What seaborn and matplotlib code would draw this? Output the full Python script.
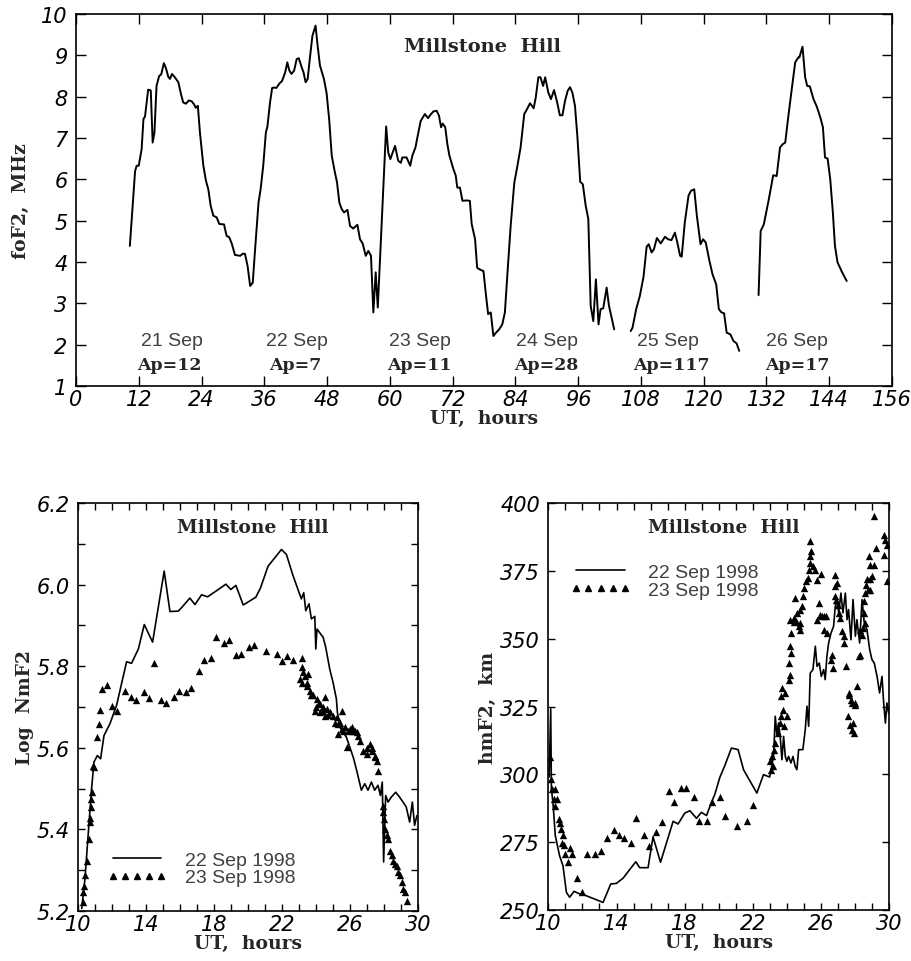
import matplotlib
matplotlib.use("Agg")
import matplotlib.pyplot as plt
from matplotlib.lines import Line2D
import seaborn as sns
import pandas as pd

# ---- top panel: foF2 at Millstone Hill, 21-26 Sep 1998 ----
seg1_hours = [10.3, 11.3, 11.6, 12.0, 12.55, 12.9, 13.2, 13.8, 14.3, 14.66,
              15.0, 15.4, 15.9, 16.3, 16.8, 17.2, 17.65, 17.97, 18.35, 18.9,
              19.57, 20.08, 20.5, 21.0, 21.6, 22.1, 22.55, 22.9, 23.3, 23.7,
              24.35, 24.86, 25.3, 25.75, 26.26, 26.9, 27.4, 28.3, 28.8, 29.3,
              29.77, 30.4, 31.4, 31.87, 32.3, 32.8, 33.3, 33.8, 34.2, 34.9,
              35.3, 35.8, 36.3, 36.6, 37.1, 37.5, 38.0, 38.3, 38.9, 39.4,
              40.0, 40.4, 40.8, 41.2, 41.7, 42.2, 42.6, 43.15, 43.5, 43.9,
              44.3, 44.7, 45.2, 45.8, 46.2, 46.65, 47.4, 47.9, 48.4, 48.9,
              49.5, 49.9, 50.35, 50.8, 51.24, 51.9, 52.4, 53.0, 53.8, 54.3,
              54.8, 55.4, 55.9, 56.4, 56.85, 57.3, 57.7, 59.3, 59.7, 60.1,
              61.0, 61.6, 62.1, 62.4, 63.2, 63.9, 64.3, 64.9, 65.45, 65.9,
              66.7, 67.3, 67.75, 68.3, 68.95, 69.4, 69.8, 70.1, 70.6, 71.0,
              71.4, 72.15, 72.6, 72.9, 73.4, 73.9, 74.7, 75.3, 75.65, 76.3,
              76.7, 77.2, 77.9, 78.4, 78.8, 79.3, 79.8, 80.3, 80.9, 81.5,
              82.0, 82.5, 83.1, 83.8, 84.4, 85.0, 85.7, 86.2, 86.8, 87.5,
              87.9, 88.4, 88.8, 89.3, 89.7, 90.3, 90.8, 91.4, 92.0, 92.5,
              93.0, 93.5, 94.0, 94.45, 94.9, 95.4, 95.85, 96.4, 96.9, 97.45,
              97.95, 98.4, 98.9, 99.4, 99.9, 100.3, 100.8, 101.45, 101.9, 102.4,
              102.9]
seg1_fof2 = [4.39, 6.2, 6.33, 6.33, 6.73, 7.46, 7.52, 8.17, 8.15, 6.89,
             7.13, 8.26, 8.5, 8.54, 8.81, 8.69, 8.48, 8.43, 8.55, 8.47,
             8.35, 8.06, 7.86, 7.83, 7.91, 7.89, 7.82, 7.73, 7.78, 7.13,
             6.33, 5.96, 5.76, 5.36, 5.12, 5.08, 4.92, 4.91, 4.63, 4.6,
             4.45, 4.17, 4.15, 4.2, 4.2, 3.91, 3.42, 3.5, 4.23, 5.44,
             5.76, 6.33, 7.13, 7.28, 7.86, 8.21, 8.22, 8.21, 8.32, 8.38,
             8.59, 8.83, 8.63, 8.55, 8.63, 8.91, 8.93, 8.71, 8.59, 8.35,
             8.43, 8.91, 9.47, 9.72, 9.23, 8.75, 8.43, 8.1, 7.46, 6.57,
             6.17, 5.93, 5.44, 5.28, 5.2, 5.26, 4.87, 4.81, 4.9, 4.55,
             4.45, 4.15, 4.27, 4.15, 2.78, 3.75, 2.9, 7.28, 6.65, 6.49,
             6.81, 6.45, 6.4, 6.53, 6.53, 6.33, 6.57, 6.77, 7.13, 7.41,
             7.58, 7.48, 7.56, 7.64, 7.66, 7.54, 7.26, 7.35, 7.26, 6.85,
             6.57, 6.25, 6.09, 5.8, 5.8, 5.48, 5.49, 5.48, 4.92, 4.55,
             3.86, 3.82, 3.78, 3.18, 2.74, 2.78, 2.21, 2.29, 2.37, 2.49,
             2.78, 3.75, 4.87, 5.92, 6.33, 6.77, 7.58, 7.69, 7.84, 7.72,
             7.98, 8.47, 8.47, 8.26, 8.47, 8.1, 7.94, 8.16, 7.86, 7.55,
             7.55, 7.9, 8.14, 8.23, 8.1, 7.78, 7.05, 5.94, 5.88, 5.36,
             5.04, 2.94, 2.57, 3.58, 2.49, 2.86, 2.88, 3.38, 2.94, 2.66,
             2.37]
seg2_hours = [106.05, 106.4, 107.1, 107.8, 108.5, 109.1, 109.5, 110.05, 110.5, 111.05,
              111.8, 112.6, 113.2, 113.85, 114.5, 114.9, 115.5, 115.8, 116.4, 117.1,
              117.55, 118.2, 118.7, 119.4, 119.9, 120.4, 121.1, 121.7, 122.4, 122.9,
              123.4, 123.9, 124.4, 125.1, 125.7, 126.3, 126.8]
seg2_fof2 = [2.33, 2.41, 2.86, 3.18, 3.64, 4.37, 4.43, 4.23, 4.31, 4.58,
             4.45, 4.61, 4.55, 4.53, 4.71, 4.51, 4.15, 4.13, 4.96, 5.6,
             5.72, 5.76, 5.12, 4.43, 4.55, 4.47, 4.03, 3.7, 3.46, 2.86,
             2.78, 2.76, 2.29, 2.25, 2.09, 2.03, 1.85]
seg3_hours = [130.5, 130.9, 131.5, 132.4, 133.3, 133.96, 134.6, 135.1, 135.6, 136.2,
              136.8, 137.5, 138.1, 138.3, 138.9, 139.4, 139.8, 140.3, 141.0, 141.6,
              142.3, 142.8, 143.2, 143.7, 144.2, 144.7, 145.1, 145.6, 146.4, 147.35]
seg3_fof2 = [3.2, 4.75, 4.91, 5.48, 6.1, 6.08, 6.77, 6.85, 6.89, 7.54,
             8.14, 8.83, 8.95, 8.95, 9.21, 8.47, 8.26, 8.25, 7.94, 7.77,
             7.5, 7.26, 6.53, 6.5, 6.0, 5.2, 4.39, 3.99, 3.77, 3.54]

day_labels = ["21 Sep", "22 Sep", "23 Sep", "24 Sep", "25 Sep", "26 Sep"]
ap_labels = ["Ap=12", "Ap=7", "Ap=11", "Ap=28", "Ap=117", "Ap=17"]
day_label_hours = [18.3, 42.2, 65.8, 90.0, 113.2, 137.9]
ap_label_hours = [17.9, 41.9, 65.7, 89.9, 113.9, 137.9]

# ---- bottom left: log NmF2 ----
nm22_hours = [10.22, 10.41, 10.61, 10.80, 10.94, 11.14, 11.33, 11.53, 11.88, 12.27,
              12.86, 13.15, 13.55, 13.90, 14.39, 15.07, 15.41, 15.90, 16.15, 16.58,
              16.88, 17.27, 17.62, 18.15, 18.70, 18.99, 19.29, 19.72, 20.46, 20.73,
              21.18, 21.97, 22.26, 22.65, 23.01, 23.14, 23.28, 23.40, 23.59, 23.73,
              23.93, 23.99, 24.06, 24.22, 24.42, 24.57, 24.81, 25.00, 25.20, 25.26,
              25.40, 25.59, 25.79, 26.02, 26.22, 26.42, 26.67, 26.87, 27.06, 27.26,
              27.45, 27.65, 27.79, 27.90, 27.98, 28.10, 28.24, 28.43, 28.69, 28.92,
              29.12, 29.31, 29.51, 29.67, 29.80, 29.94]
nm22_log = [5.206, 5.279, 5.393, 5.500, 5.565, 5.581, 5.573, 5.630, 5.659, 5.704,
            5.811, 5.807, 5.842, 5.902, 5.859, 6.033, 5.934, 5.935, 5.946, 5.967,
            5.951, 5.975, 5.970, 5.985, 6.001, 5.988, 5.998, 5.950, 5.969, 5.991,
            6.045, 6.086, 6.074, 6.022, 5.980, 5.965, 5.980, 5.936, 5.953, 5.916,
            5.922, 5.842, 5.891, 5.882, 5.871, 5.847, 5.793, 5.761, 5.720, 5.687,
            5.651, 5.638, 5.626, 5.598, 5.573, 5.540, 5.496, 5.512, 5.496, 5.516,
            5.496, 5.508, 5.483, 5.516, 5.320, 5.483, 5.467, 5.479, 5.491, 5.479,
            5.467, 5.455, 5.418, 5.467, 5.410, 5.434]
nm23_hours = [10.29, 10.29, 10.35, 10.43, 10.55, 10.63, 10.69, 10.73, 10.75, 10.78,
              10.82, 10.88, 10.94, 11.12, 11.22, 11.31, 11.43, 11.71, 12.02, 12.31,
              12.75, 13.10, 13.43, 13.86, 14.18, 14.47, 14.90, 15.20, 15.65, 15.94,
              16.37, 16.67, 17.12, 17.41, 17.84, 18.14, 18.57, 18.86, 19.31, 19.61,
              20.06, 20.35, 21.06, 21.69, 21.98, 22.27, 22.67, 23.16, 23.16, 23.25,
              23.06, 23.35, 23.55, 23.16, 23.45, 23.65, 23.84, 24.04, 24.24, 24.43,
              23.94, 24.53, 24.24, 24.63, 24.82, 25.02, 24.53, 25.22, 25.51, 25.31,
              25.51, 25.31, 25.71, 25.90, 26.00, 26.20, 26.39, 25.80, 26.59, 26.78,
              26.98, 27.18, 27.27, 27.47, 27.57, 27.67, 27.96, 27.96, 28.02, 28.06,
              28.16, 28.26, 28.35, 28.45, 28.55, 28.65, 28.75, 28.84, 28.94, 29.04,
              29.14, 29.24, 29.33, 23.50, 23.70, 24.00, 24.20, 24.40, 24.70, 25.10,
              25.40, 25.60, 26.10, 26.30, 26.50, 27.00, 27.30, 27.50]
nm23_log = [5.221, 5.246, 5.262, 5.287, 5.323, 5.376, 5.417, 5.429, 5.454, 5.474,
            5.491, 5.556, 5.552, 5.626, 5.658, 5.693, 5.744, 5.754, 5.703, 5.689,
            5.738, 5.724, 5.717, 5.736, 5.722, 5.807, 5.717, 5.709, 5.724, 5.738,
            5.736, 5.747, 5.789, 5.816, 5.819, 5.872, 5.857, 5.864, 5.828, 5.831,
            5.848, 5.853, 5.838, 5.831, 5.813, 5.826, 5.815, 5.821, 5.797, 5.785,
            5.769, 5.777, 5.781, 5.760, 5.752, 5.740, 5.729, 5.720, 5.707, 5.699,
            5.691, 5.724, 5.687, 5.695, 5.687, 5.679, 5.679, 5.675, 5.691, 5.658,
            5.646, 5.634, 5.650, 5.642, 5.646, 5.642, 5.638, 5.601, 5.617, 5.593,
            5.585, 5.609, 5.593, 5.577, 5.568, 5.544, 5.458, 5.442, 5.425, 5.401,
            5.385, 5.376, 5.348, 5.336, 5.323, 5.315, 5.311, 5.295, 5.287, 5.270,
            5.254, 5.246, 5.225, 5.760, 5.730, 5.700, 5.710, 5.690, 5.680, 5.660,
            5.660, 5.640, 5.650, 5.640, 5.630, 5.600, 5.600, 5.580]

# ---- bottom right: hmF2 ----
hm22_hours = [10.05, 10.14, 10.18, 10.27, 10.41, 10.66, 10.86, 11.06, 11.25, 11.51,
              11.84, 12.13, 13.21, 13.66, 13.99, 14.38, 15.13, 15.36, 15.85, 16.14,
              16.58, 17.32, 17.61, 18.00, 18.30, 18.69, 18.98, 19.28, 19.57, 19.77,
              20.06, 20.35, 20.74, 21.13, 21.45, 21.84, 22.23, 22.62, 22.98, 23.21,
              23.31, 23.41, 23.50, 23.60, 23.70, 23.80, 23.90, 23.99, 24.09, 24.23,
              24.35, 24.48, 24.58, 24.68, 24.93, 25.07, 25.17, 25.27, 25.36, 25.52,
              25.66, 25.76, 25.89, 26.01, 26.15, 26.24, 26.34, 26.44, 26.58, 26.73,
              26.83, 26.93, 27.03, 27.16, 27.28, 27.42, 27.52, 27.61, 27.75, 27.87,
              28.01, 28.10, 28.26, 28.40, 28.53, 28.69, 28.85, 28.98, 29.12, 29.28,
              29.43, 29.57, 29.67, 29.77, 29.86, 29.96]
hm22_km = [299.0, 324.1, 294.6, 289.7, 277.4, 270.0, 266.3, 256.5, 254.7, 256.9,
           255.9, 255.5, 252.8, 259.6, 259.8, 261.7, 267.8, 265.6, 265.6, 277.0,
           267.6, 282.7, 281.7, 285.7, 286.6, 283.8, 286.0, 284.8, 289.7, 292.7,
           298.9, 303.2, 309.7, 309.1, 301.7, 297.4, 293.1, 299.9, 299.0, 306.6,
           321.4, 314.0, 318.9, 314.0, 305.4, 314.0, 306.6, 304.8, 306.6, 304.2,
           306.6, 302.9, 301.7, 309.1, 309.1, 316.5, 325.1, 317.7, 337.3, 338.6,
           347.2, 339.8, 341.0, 336.1, 338.6, 334.9, 343.5, 348.4, 352.1, 354.5,
           361.9, 364.4, 359.5, 366.8, 359.5, 366.8, 357.0, 360.7, 349.6, 364.4,
           350.9, 357.0, 348.4, 364.4, 355.8, 353.3, 345.9, 342.3, 341.0, 336.1,
           330.0, 336.1, 326.3, 318.9, 326.3, 322.6]
hm23_hours = [10.08, 10.14, 10.21, 10.37, 10.33, 10.53, 10.41, 10.61, 10.66, 10.72,
              10.86, 10.80, 10.92, 11.29, 10.96, 11.41, 11.15, 11.68, 11.99, 12.29,
              12.72, 13.11, 13.44, 13.83, 14.15, 14.44, 14.87, 15.17, 15.62, 15.91,
              16.34, 16.67, 17.08, 17.38, 17.81, 18.10, 18.55, 18.84, 19.30, 19.61,
              20.06, 20.35, 21.04, 21.68, 21.98, 23.02, 23.11, 23.17, 23.05, 23.21,
              23.31, 23.45, 23.56, 23.66, 23.76, 23.84, 24.00, 23.64, 23.70, 23.90,
              24.09, 24.19, 24.09, 24.25, 24.19, 24.25, 24.19, 24.39, 24.42, 24.54,
              24.68, 24.74, 24.78, 24.58, 24.74, 24.87, 24.93, 24.48, 25.01, 25.13,
              25.21, 25.27, 25.36, 25.32, 25.40, 25.32, 25.52, 25.66, 25.76, 25.99,
              25.85, 25.76, 25.91, 26.05, 26.19, 26.30, 26.15, 26.34, 26.64, 26.60,
              26.69, 26.83, 26.93, 26.83, 26.83, 26.89, 26.97, 27.03, 27.13, 27.22,
              27.32, 27.36, 27.48, 27.61, 27.75, 27.81, 28.01, 28.10, 28.01, 27.58,
              27.67, 27.87, 27.91, 27.81, 27.61, 28.20, 28.30, 28.40, 28.30, 28.46,
              28.55, 28.49, 28.49, 28.59, 28.73, 28.89, 28.65, 28.69, 28.85, 28.98,
              28.89, 29.08, 28.79, 29.12, 29.24, 29.67, 29.77, 29.87, 29.71, 29.87]
hm23_km = [306.3, 298.3, 294.6, 294.6, 290.9, 290.9, 288.2, 283.5, 282.1, 279.8,
           277.6, 274.7, 273.9, 272.7, 270.8, 270.8, 267.8, 261.7, 256.5, 270.8,
           270.8, 271.6, 276.7, 279.6, 277.8, 276.7, 274.7, 283.8, 277.8, 273.7,
           278.6, 282.5, 293.7, 289.7, 294.8, 294.8, 291.8, 282.7, 282.7, 289.7,
           291.8, 284.8, 280.8, 282.7, 288.8, 304.8, 306.6, 302.9, 301.7, 309.1,
           311.5, 315.2, 318.9, 321.4, 323.8, 317.7, 321.4, 328.7, 331.8, 330.0,
           334.9, 336.7, 341.0, 344.7, 347.2, 352.1, 357.0, 356.0, 357.6, 356.4,
           354.5, 353.3, 355.8, 359.5, 360.7, 361.9, 365.6, 365.0, 368.7, 371.1,
           372.4, 375.4, 377.9, 380.3, 382.2, 385.9, 376.7, 375.4, 371.7, 374.0,
           363.1, 357.0, 358.8, 358.2, 358.2, 358.2, 353.3, 352.1, 344.1, 342.3,
           339.2, 373.6, 370.5, 369.3, 365.6, 364.4, 362.5, 359.5, 357.6, 352.7,
           350.9, 348.4, 339.8, 330.0, 327.5, 326.3, 326.3, 332.7, 325.7, 321.4,
           318.3, 318.9, 315.2, 316.5, 329.4, 343.5, 344.1, 351.5, 353.3, 353.9,
           355.8, 359.5, 363.8, 366.8, 368.1, 368.1, 369.9, 372.0, 372.0, 373.2,
           377.3, 377.3, 380.3, 395.1, 383.4, 388.3, 386.5, 384.6, 381.0, 371.1]

series_labels = ["22 Sep 1998", "23 Sep 1998"]

# ---- styling ----
sns.set_theme(style="ticks")
plt.rcParams["font.family"] = ["DejaVu Serif"]
TICK_FONT = dict(family="DejaVu Sans", style="italic", size=15)
LABEL_FONT = dict(family="DejaVu Serif", weight="bold", size=13.5)
GRAY = "#404040"

fig = plt.figure(figsize=(9.11, 9.62), dpi=100)
ax_top = fig.add_axes([0.0834, 0.5977, 0.8957, 0.3867])
ax_nm = fig.add_axes([0.0856, 0.0520, 0.3732, 0.4241])
ax_hm = fig.add_axes([0.6019, 0.0530, 0.3743, 0.4231])


def style_axis(ax, xticks, xlabels, yticks, ylabels, ticklen):
    ax.set_xticks(xticks, xlabels, **TICK_FONT)
    ax.set_yticks(yticks, ylabels, **TICK_FONT)
    ax.tick_params(direction="in", top=True, right=True, length=ticklen,
                   width=1, color="black", labelcolor="black")
    ax.tick_params(axis="x", pad=2)
    ax.tick_params(axis="y", pad=6)
    for sp in ax.spines.values():
        sp.set_visible(True)
        sp.set_linewidth(1.2)
        sp.set_color("black")
    ax.set_facecolor("white")


# top panel
top_df = pd.concat([
    pd.DataFrame({"UT": seg1_hours, "foF2": seg1_fof2, "seg": 1}),
    pd.DataFrame({"UT": seg2_hours, "foF2": seg2_fof2, "seg": 2}),
    pd.DataFrame({"UT": seg3_hours, "foF2": seg3_fof2, "seg": 3}),
])
sns.lineplot(data=top_df, x="UT", y="foF2", units="seg", estimator=None,
             sort=False, color="black", linewidth=1.4, ax=ax_top, legend=False)
ax_top.set_xlim(0, 156)
ax_top.set_ylim(1, 10)
xt = list(range(0, 157, 12))
yt = list(range(1, 11))
style_axis(ax_top, xt, [str(v) for v in xt], yt, [str(v) for v in yt], 7)
ax_top.set_xlabel("UT,  hours", labelpad=0, **LABEL_FONT)
ax_top.set_ylabel("foF2,  MHz", labelpad=8, **LABEL_FONT)
ax_top.text(77.8, 9.23, "Millstone  Hill", ha="center", va="center",
            family="DejaVu Serif", weight="bold", size=14)
for h, lab in zip(day_label_hours, day_labels):
    ax_top.text(h, 2.09, lab, ha="center", va="center", color=GRAY,
                family="Liberation Sans", size=14)
for h, lab in zip(ap_label_hours, ap_labels):
    ax_top.text(h, 1.53, lab, ha="center", va="center",
                family="DejaVu Serif", weight="bold", size=12.5)

# bottom left
sns.lineplot(x=nm22_hours, y=nm22_log, estimator=None, sort=False,
             color="black", linewidth=1.2, ax=ax_nm)
sns.scatterplot(x=nm23_hours, y=nm23_log, marker="^", s=28, color="black",
                edgecolor="black", linewidth=0, ax=ax_nm)
ax_nm.set_xlim(10, 30)
ax_nm.set_ylim(5.2, 6.2)
xt = list(range(10, 31))
xl = [str(v) if (v - 10) % 4 == 0 else "" for v in xt]
yt = [round(5.2 + 0.1 * i, 1) for i in range(11)]
yl = [f"{v:.1f}" if i % 2 == 0 else "" for i, v in enumerate(yt)]
style_axis(ax_nm, xt, xl, yt, yl, 5)
ax_nm.set_xlabel("UT,  hours", labelpad=0, **LABEL_FONT)
ax_nm.set_ylabel("Log  NmF2", labelpad=2, **LABEL_FONT)
ax_nm.text(20.3, 6.14, "Millstone  Hill", ha="center", va="center",
           family="DejaVu Serif", weight="bold", size=13.5)

# bottom right
sns.lineplot(x=hm22_hours, y=hm22_km, estimator=None, sort=False,
             color="black", linewidth=1.2, ax=ax_hm)
sns.scatterplot(x=hm23_hours, y=hm23_km, marker="^", s=28, color="black",
                edgecolor="black", linewidth=0, ax=ax_hm)
ax_hm.set_xlim(10, 30)
ax_hm.set_ylim(250, 400)
yt = list(range(250, 401, 25))
style_axis(ax_hm, xt, xl, yt, [str(v) for v in yt], 5)
ax_hm.set_xlabel("UT,  hours", labelpad=0, **LABEL_FONT)
ax_hm.set_ylabel("hmF2,  km", labelpad=2, **LABEL_FONT)
ax_hm.text(20.3, 391, "Millstone  Hill", ha="center", va="center",
           family="DejaVu Serif", weight="bold", size=13.5)

# legends
handles = [Line2D([], [], color="black", linewidth=1.2),
           Line2D([], [], color="black", linestyle="none", marker="^",
                  markersize=5)]
for ax, loc in [(ax_nm, (0.085, 0.06)), (ax_hm, (0.065, 0.765))]:
    leg = ax.legend(handles, series_labels, loc=loc, frameon=False,
                    numpoints=5, handlelength=3.1, handletextpad=0.9,
                    labelspacing=0.0, borderpad=0,
                    prop=dict(family="Liberation Sans", size=14))
    for t in leg.get_texts():
        t.set_color(GRAY)

fig.savefig("out.png", dpi=100, facecolor="white")
